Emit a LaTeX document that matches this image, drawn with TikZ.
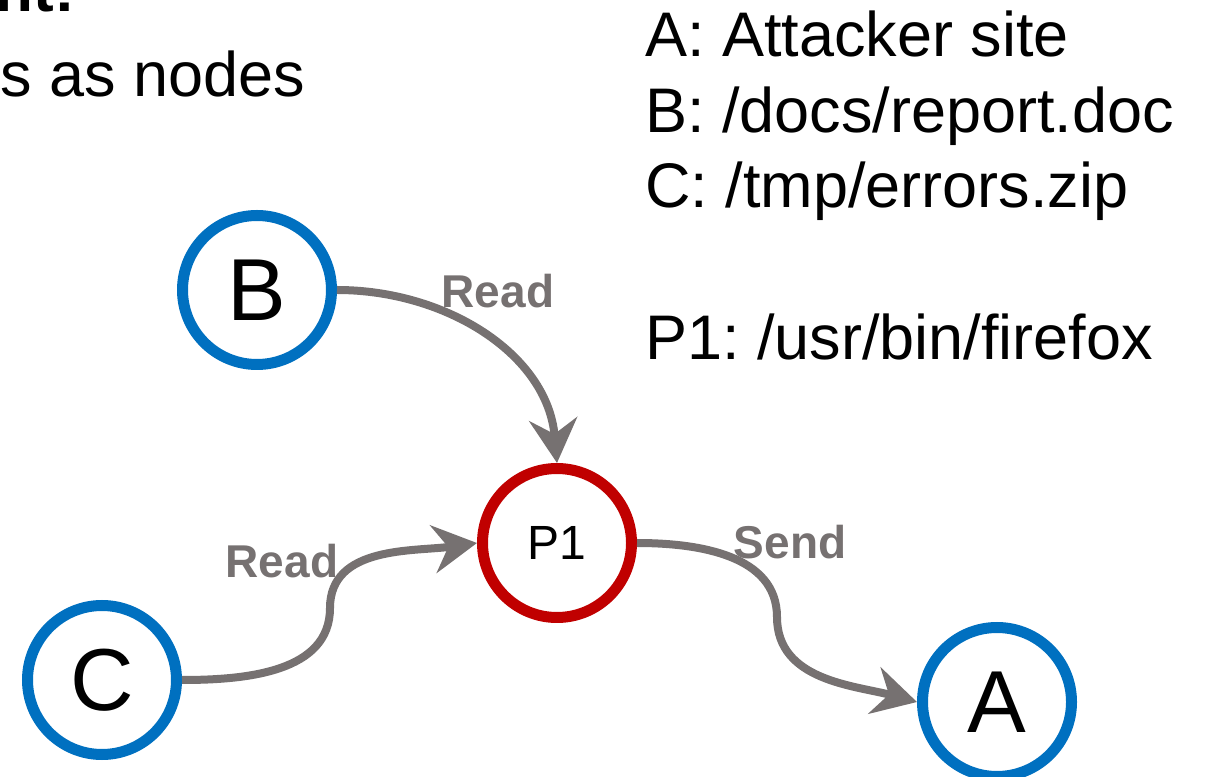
\documentclass[tikz,border=0pt]{standalone}
\usepackage{fontspec}
\setmainfont{Liberation Sans}
\usetikzlibrary{arrows.meta}
\definecolor{nblue}{RGB}{0,112,192}
\definecolor{nred}{RGB}{192,0,0}
\definecolor{egray}{RGB}{118,113,113}
\frenchspacing
\begin{document}
\begin{tikzpicture}[x=1pt,y=1pt,
  res/.style={circle,draw=nblue,line width=11pt,minimum size=149pt,inner sep=0pt,font=\fontsize{88}{100}\selectfont},
  proc/.style={circle,draw=nred,line width=11pt,minimum size=149pt,inner sep=0pt,font=\fontsize{48}{56}\selectfont},
  flow/.style={draw=egray,line width=8pt,-{Stealth[length=44pt,width=48pt,inset=15pt]}},
  elabel/.style={anchor=base,text=egray,font=\bfseries\fontsize{46}{54}\selectfont},
  legend/.style={anchor=base west,font=\fontsize{63}{76}\selectfont}]
\useasboundingbox (0,0) rectangle (1212,776);
% cut-off title text
\node[anchor=base east,inner sep=0pt,font=\bfseries\fontsize{62}{76}\selectfont] (t1) at (75,764) {nt:};
\node[anchor=base east,inner sep=0pt,font=\fontsize{63}{76}\selectfont] (t2) at (305,679) {s as nodes};
% legend
\node[legend,inner sep=0pt] (la) at (645,719) {A: Attacker site};
\node[legend,inner sep=0pt] (lb) at (645,643) {B: /docs/report.doc};
\node[legend,inner sep=0pt] (lc) at (645,568) {C: /tmp/errors.zip};
\node[legend,inner sep=0pt] (lp) at (645,416) {P1: /usr/bin/firefox};
% nodes
\node[res] (B) at (257,486) {B};
\node[proc] (P1) at (557,233) {P1};
\node[res] (C) at (102,96) {C};
\node[res] (A) at (997,74) {A};
\coordinate (c1) at (330,168);
\coordinate (s1) at (777,159);
% edges
\draw[flow] (B.east) to[out=0,in=95] (P1.north);
\draw[flow] (C.east) to[out=0,in=-90] (c1) to[out=90,in=188] (P1.west);
\draw[flow] (P1.east) to[out=0,in=90] (s1) to[out=-90,in=165] (A.west);
% edge labels
\node[elabel] (r1) at (498,468) {Read};
\node[elabel] (r2) at (282,198) {Read};
\node[elabel] (sd) at (790,217) {Send};
\end{tikzpicture}
\end{document}
